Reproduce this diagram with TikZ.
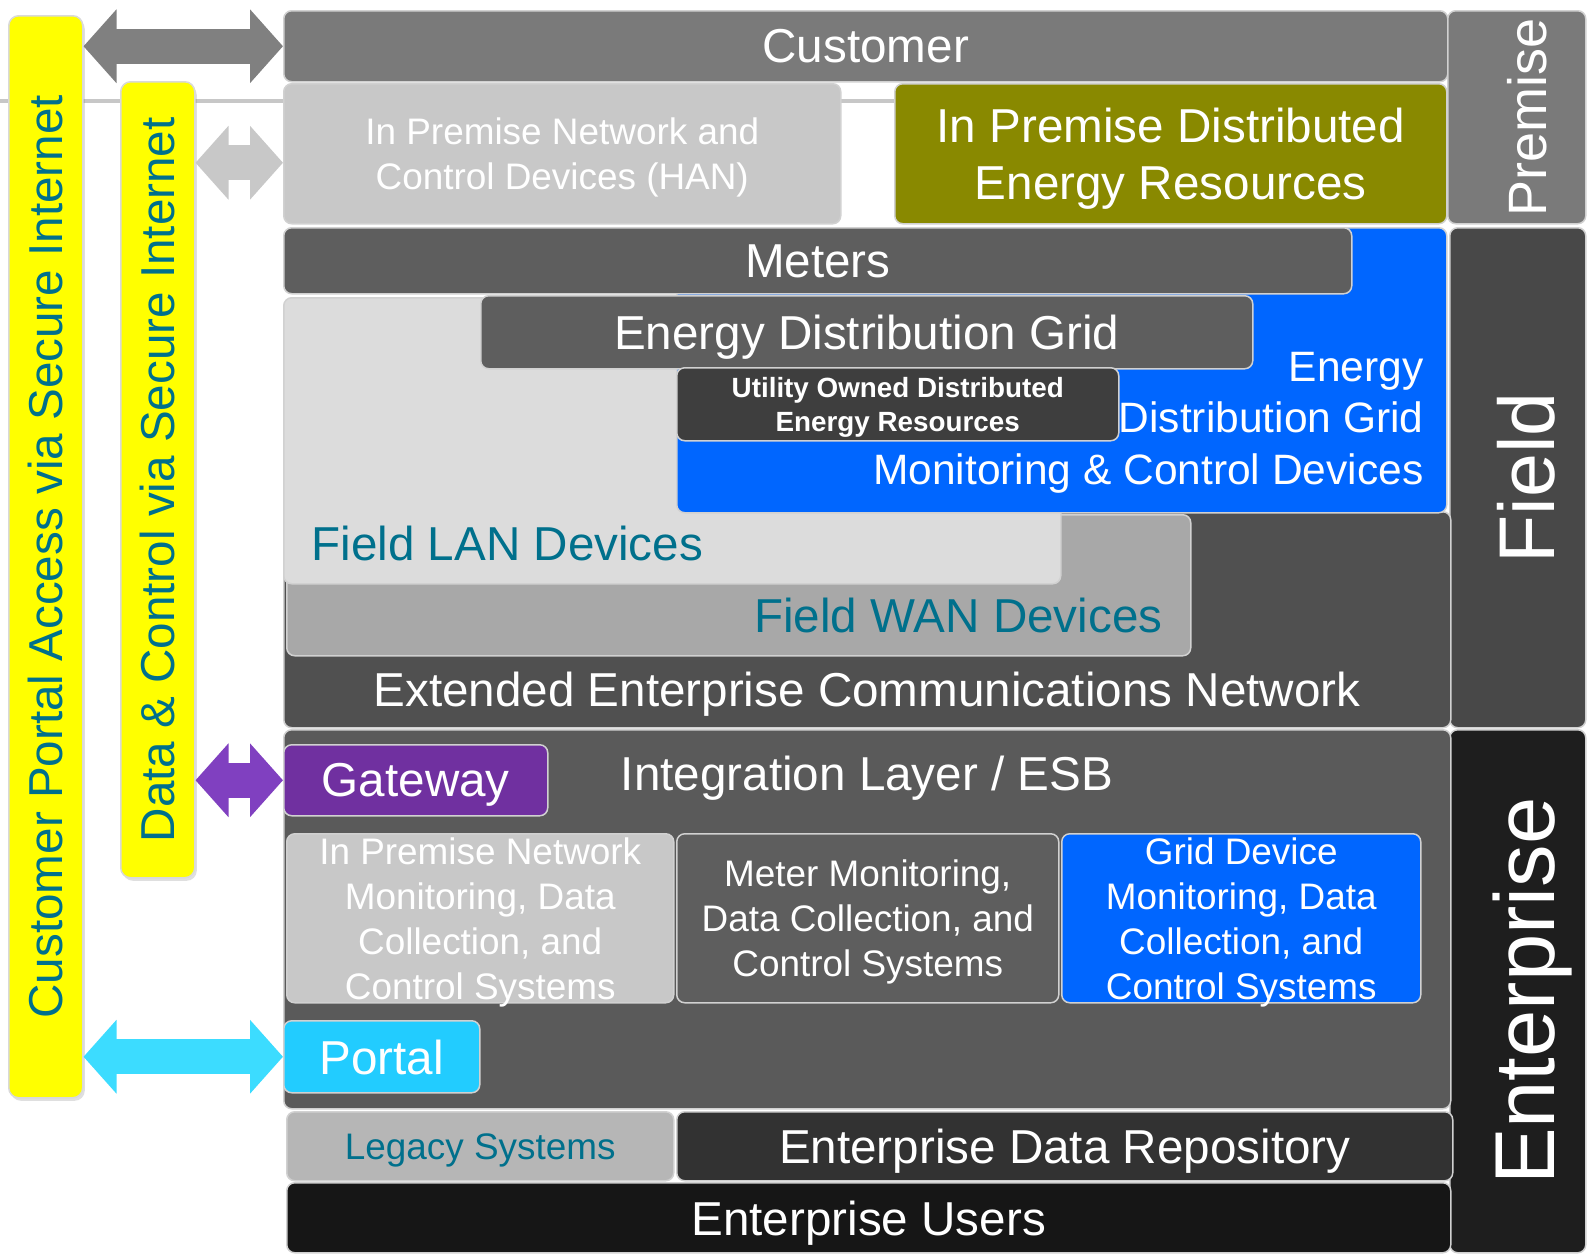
\documentclass[tikz,border=0pt]{standalone}
\usepackage{fontspec}
\setmainfont{Liberation Sans}
\usepackage{xcolor}
\usepackage{graphicx}
\usepackage{tikz}
\usetikzlibrary{arrows.meta, shadows, calc}

\definecolor{custgray}{RGB}{122,122,122}
\definecolor{hangray}{RGB}{200,200,200}
\definecolor{dergreen}{RGB}{137,137,0}
\definecolor{midgray}{RGB}{94,94,94}
\definecolor{utilgray}{RGB}{62,62,62}
\definecolor{gridblue}{RGB}{0,102,255}
\definecolor{langray}{RGB}{220,220,220}
\definecolor{wangray}{RGB}{168,168,168}
\definecolor{extgray}{RGB}{80,80,80}
\definecolor{fieldgray}{RGB}{72,72,72}
\definecolor{entgray}{RGB}{30,30,30}
\definecolor{intgray}{RGB}{90,90,90}
\definecolor{gatepurple}{RGB}{112,48,160}
\definecolor{portalcyan}{RGB}{34,204,255}
\definecolor{legacygray}{RGB}{182,182,182}
\definecolor{repogray}{RGB}{50,50,50}
\definecolor{usersblack}{RGB}{22,22,22}
\definecolor{baryellow}{RGB}{255,255,0}
\definecolor{tealtext}{RGB}{0,112,140}
\definecolor{arrowgray}{RGB}{128,128,128}
\definecolor{arrowlight}{RGB}{200,200,200}
\definecolor{arrowpurple}{RGB}{128,64,192}
\definecolor{arrowcyan}{RGB}{60,220,255}

\begin{document}
\begin{tikzpicture}[
		x=1pt, y=-1pt,
		% Defining consistent styles
		layerbox/.style={
				rectangle,
				rounded corners=8pt,
				draw=white!82!black,
				line width=1.5pt,
				anchor=north west,
				inner sep=0pt,
				align=center,
				text=white,
				text depth=0pt,
				font=\fontsize{47.6}{57.7}\selectfont
			},
		barbox/.style={
				rectangle,
				rounded corners=10pt,
				draw=white!85!black,
				line width=1.5pt,
				anchor=north west,
				inner sep=0pt,
				fill=baryellow,
				text=tealtext,
				font=\fontsize{47.6}{57.7}\selectfont,
				drop shadow={opacity=0.25, shadow xshift=2pt, shadow yshift=-3pt}
			},
		midtext/.style={
				font=\fontsize{36.9}{45}\selectfont
			},
		bluetext/.style={
				text=white,
				align=right,
				text depth=0pt,
				font=\fontsize{42.5}{51.6}\selectfont
			},
		plaintext/.style={
				text=white,
				text depth=0pt,
				font=\fontsize{47.6}{57.7}\selectfont
			},
		% Defining arrow styles
		dblarrow/.style={
				{Triangle[length=33pt,width=72pt]}-{Triangle[length=33pt,width=72pt]},
				line width=35pt
			},
		sepline/.style={
				draw=black!22,
				line width=4pt
			}
		]

		\useasboundingbox[fill=white] (0,0) rectangle (1587,1254);

		% Separator behind the bars
		\coordinate (sepleft) at (0,101);
		\coordinate (sepright) at (894,101);
		\draw[sepline] (sepleft) -- (sepright);

		% Internet access bars
		\node[barbox, minimum width=74pt, minimum height=1082pt] (portalbar) at (8,15)
			{\rotatebox{90}{Customer Portal Access via Secure Internet}};
		\node[barbox, minimum width=74pt, minimum height=796pt] (ctrlbar) at (120,81)
			{\rotatebox{90}{Data \& Control via Secure Internet}};

		% Premise layer
		\node[layerbox, fill=custgray, minimum width=1164pt, minimum height=71pt] (customer) at (283,10) {Customer};
		\node[layerbox, midtext, fill=hangray, minimum width=557pt, minimum height=140pt] (han) at (283,83) {
				In Premise Network and \\
				Control Devices (HAN)
			};
		\node[layerbox, fill=dergreen, minimum width=552pt, minimum height=140pt] (der) at (894,83) {
				In Premise Distributed \\
				Energy Resources
			};
		\node[layerbox, fill=custgray, minimum width=138pt, minimum height=213pt,
			font=\fontsize{54}{60}\selectfont] (premise) at (1447,10) {\hspace*{20pt}\rotatebox{90}{Premise}};

		% Field layer
		\node[layerbox, fill=fieldgray, minimum width=136pt, minimum height=500pt,
			font=\fontsize{79}{90}\selectfont] (field) at (1449,227) {\hspace*{16pt}\rotatebox{90}{Field}};
		\node[layerbox, fill=extgray, minimum width=1167pt, minimum height=216pt] (extnet) at (283,511) {};
		\node[layerbox, fill=wangray, minimum width=904pt, minimum height=141pt] (wan) at (286,514) {};
		\node[layerbox, fill=langray, minimum width=777pt, minimum height=286pt] (lan) at (283,297) {};
		\node[layerbox, fill=gridblue, minimum width=770pt, minimum height=285pt] (gridmon) at (676,227) {};
		\node[layerbox, fill=midgray, minimum width=1068pt, minimum height=66pt] (meters) at (283,227) {Meters};
		\node[layerbox, fill=midgray, minimum width=772pt, minimum height=73pt] (edg) at (480,295) {Energy Distribution Grid};
		\node[layerbox, fill=utilgray, minimum width=442pt, minimum height=73pt,
			font=\fontsize{27.8}{33.4}\selectfont\bfseries] (utilder) at (676,367) {
				Utility Owned Distributed \\
				Energy Resources
			};

		\node[bluetext, anchor=east] (gridmon_text) at (1427,418) {
				Energy \\
				Distribution Grid \\
				Monitoring \& Control Devices
			};
		\node[plaintext, text=tealtext, anchor=west] (lan_text) at (308,543) {Field LAN Devices};
		\node[plaintext, text=tealtext, anchor=east] (wan_text) at (1166,615) {Field WAN Devices};
		\node[plaintext] (extnet_text) at (867,689) {Extended Enterprise Communications Network};

		% Enterprise layer
		\node[layerbox, fill=entgray, minimum width=136pt, minimum height=523pt,
			font=\fontsize{85}{94}\selectfont] (enterprise) at (1449,729) {\hspace*{30pt}\rotatebox{90}{Enterprise}};
		\node[layerbox, fill=intgray, minimum width=1167pt, minimum height=379pt] (esb) at (283,729) {};
		\node[plaintext] (esb_text) at (867,773) {Integration Layer / ESB};

		\node[layerbox, fill=gatepurple, minimum width=264pt, minimum height=71pt] (gateway) at (283,744) {Gateway};

		\node[layerbox, midtext, fill=hangray, minimum width=387pt, minimum height=169pt] (hanmon) at (286,833) {
				In Premise Network \\
				Monitoring, Data \\
				Collection, and \\
				Control Systems
			};
		\node[layerbox, midtext, fill=midgray, minimum width=382pt, minimum height=169pt] (metermon) at (676,833) {
				Meter Monitoring, \\
				Data Collection, and \\
				Control Systems
			};
		\node[layerbox, midtext, fill=gridblue, minimum width=359pt, minimum height=169pt] (gridsys) at (1061,833) {
				Grid Device \\
				Monitoring, Data \\
				Collection, and \\
				Control Systems
			};

		\node[layerbox, fill=portalcyan, minimum width=196pt, minimum height=72pt] (portal) at (283,1020) {Portal};

		\node[layerbox, midtext, fill=legacygray, text=tealtext, minimum width=387pt, minimum height=69pt] (legacy) at (286,1111) {Legacy Systems};
		\node[layerbox, fill=repogray, minimum width=776pt, minimum height=69pt] (repo) at (676,1111) {Enterprise Data Repository};
		\node[layerbox, fill=usersblack, minimum width=1164pt, minimum height=70pt] (users) at (286,1182) {Enterprise Users};

		% Drawing access arrows
		\draw[dblarrow, color=arrowgray] (portalbar.east |- customer.west) -- (customer.west);
		\draw[dblarrow, color=arrowlight] ($(ctrlbar.east |- han.west)+(0,9)$) -- ($(han.west)+(0,9)$);
		\draw[dblarrow, color=arrowpurple] (ctrlbar.east |- gateway.west) -- (gateway.west);
		\draw[dblarrow, color=arrowcyan] (portalbar.east |- portal.west) -- (portal.west);

	\end{tikzpicture}
\end{document}
